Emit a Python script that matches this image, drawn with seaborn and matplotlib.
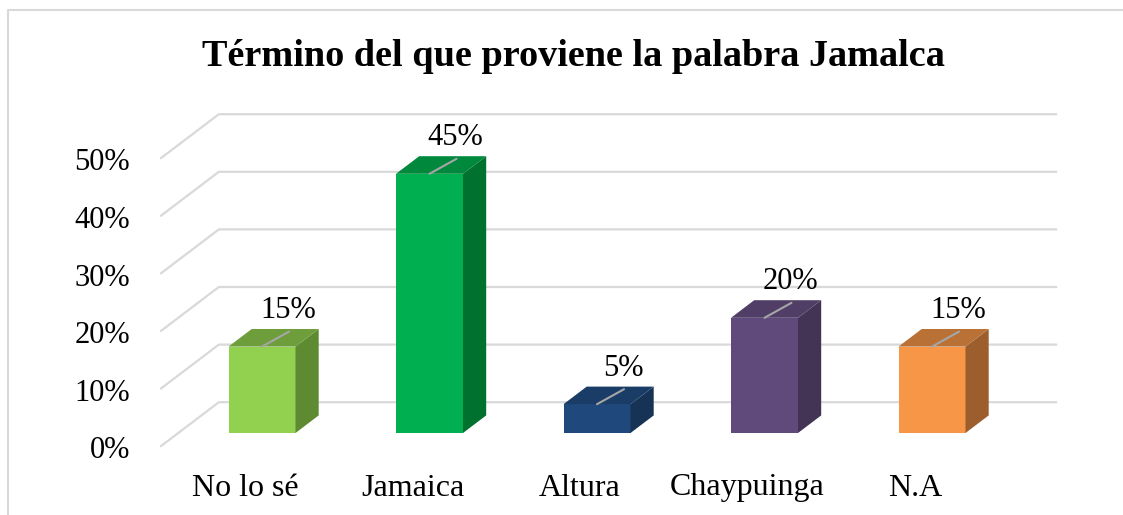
import pandas as pd
import numpy as np
import matplotlib
matplotlib.use("Agg")
import matplotlib.pyplot as plt
import matplotlib.transforms as mtransforms
from matplotlib.lines import Line2D
from matplotlib.patches import Polygon
import seaborn as sns

# Data
categories = ["No lo sé", "Jamaica", "Altura", "Chaypuinga", "N.A"]
values = [15, 45, 5, 20, 15]
tick_values = [0, 10, 20, 30, 40, 50]
tick_labels = ["0%", "10%", "20%", "30%", "40%", "50%"]
title = "Término del que proviene la palabra Jamalca"

# Face colours: front / top / side
front_colors = ["#92D050", "#00B050", "#1F497D", "#604A7B", "#F79646"]
top_colors = ["#6E9E3C", "#00883D", "#1A3D68", "#503E67", "#BA7136"]
side_colors = ["#5E8A32", "#00712F", "#163356", "#433455", "#9B5E2C"]

sns.set_theme(style="white")
plt.rcParams["font.family"] = ["Liberation Serif", "DejaVu Serif"]

DPI = 100
W, H = 1123, 515
fig = plt.figure(figsize=(W / DPI, H / DPI), dpi=DPI)
fig.patch.set_facecolor("white")

# front plane of the bars
ax = fig.add_axes([178.25 / W, 82 / H, 837.5 / W, 288 / H])
ax.set_xlim(-0.5, len(categories) - 0.5)
ax.set_ylim(0, 50)

df = pd.DataFrame({"category": categories, "value": values})
sns.barplot(
    data=df, x="category", y="value", hue="category",
    palette=front_colors, saturation=1, width=0.4, linewidth=0,
    errorbar=None, legend=False, ax=ax, zorder=3,
)
ax.set_xlim(-0.5, len(categories) - 0.5)
ax.set_ylim(0, 50)
ax.set_axis_off()

# oblique depth projection (pixels per unit depth)
DX, DY = 58, 44
FRONT, WALL, BAR_DEPTH = -0.3, 0.7, 0.4
display = mtransforms.IdentityTransform()


def proj(x, y, z):
    px, py = ax.transData.transform((x, y))
    return px + z * DX, py + z * DY


def px_offset(dx, dy):
    return ax.transData + mtransforms.ScaledTranslation(dx / DPI, dy / DPI, fig.dpi_scale_trans)


xmin, xmax = ax.get_xlim()
grid_color = "#D9D9D9"
for t in tick_values:
    pts = [proj(xmin, t, FRONT), proj(xmin, t, WALL), proj(xmax, t, WALL)]
    xs, ys = zip(*pts)
    ax.add_line(Line2D(xs, ys, transform=display, color=grid_color, lw=1.6,
                       clip_on=False, zorder=1))

# side and top faces of each bar
for bar in ax.patches[:]:
    x0 = bar.get_x()
    x1 = x0 + bar.get_width()
    h = bar.get_height()
    i = int(round(bar.get_x() + bar.get_width() / 2))
    side = [proj(x1, 0, 0), proj(x1, h, 0), proj(x1, h, BAR_DEPTH), proj(x1, 0, BAR_DEPTH)]
    top = [proj(x0, h, 0), proj(x1, h, 0), proj(x1, h, BAR_DEPTH), proj(x0, h, BAR_DEPTH)]
    ax.add_patch(Polygon(side, closed=True, transform=display, facecolor=side_colors[i],
                         edgecolor="none", clip_on=False, zorder=3))
    ax.add_patch(Polygon(top, closed=True, transform=display, facecolor=top_colors[i],
                         edgecolor="none", clip_on=False, zorder=3))

    # leader line + value label
    xc = x0 + bar.get_width() / 2
    sx, sy = proj(xc, h, 0)
    ax.add_line(Line2D([sx, sx + 27], [sy, sy + 15], transform=display,
                       color="#A6A6A6", lw=1.5, clip_on=False, zorder=4))
    ax.text(xc, h, f"{values[i]}%", transform=px_offset(26, 36),
            ha="center", va="center", fontsize=22, color="black", zorder=5)

# y tick labels on the front edge of the floor
for t, lab in zip(tick_values, tick_labels):
    ax.text(xmin, t, lab, transform=px_offset(-48, -18), ha="right", va="center",
            fontsize=22, color="black")

# category labels
for i, cat in enumerate(categories):
    ax.text(i, 0, cat, transform=px_offset(-17, -55), ha="center", va="center",
            fontsize=23, color="black")

fig.text(573 / W, 1 - 57 / H, title, ha="center", va="center",
         fontsize=27.5, fontweight="bold", color="black")

# chart border (top and left visible)
fig.add_artist(Line2D([8 / W, 8 / W, 1], [0, 1 - 10 / H, 1 - 10 / H],
                      transform=fig.transFigure, color="#D9D9D9", lw=1.5))

fig.savefig("out.png", dpi=DPI)
